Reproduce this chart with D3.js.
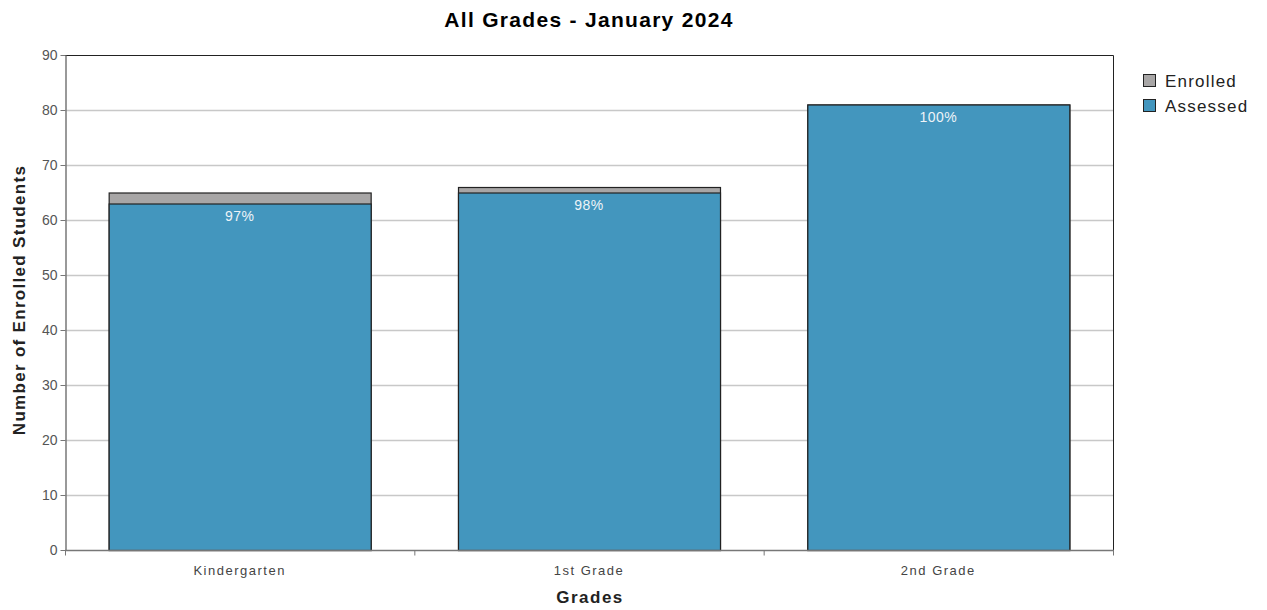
<!DOCTYPE html>
<html>
<head>
<meta charset="utf-8">
<script src="https://cdn.jsdelivr.net/npm/d3@7"></script>
<style>
  body { margin: 0; background: #fff; font-family: "Liberation Sans", Arial, sans-serif; }
</style>
</head>
<body>
<div class="chart-page"></div>
<script>
let grades = ["Kindergarten", "1st Grade", "2nd Grade"];
let enrolled = [65, 66, 81];
let assessed = [63, 65, 81];
let percentLabels = ["97%", "98%", "100%"];
let yTicks = [0, 10, 20, 30, 40, 50, 60, 70, 80, 90];

let width = 1267, height = 610;
let margin = { top: 55, right: 154, bottom: 60, left: 65 };
let blue = "#4396be", gray = "#a8a6a6";

let svg = d3.select(".chart-page")
  .append("svg")
  .attr("width", width)
  .attr("height", height);

let x = d3.scaleBand()
  .domain(grades)
  .range([margin.left, width - margin.right])
  .paddingInner(0.25)
  .paddingOuter(0.125);

let y = d3.scaleLinear()
  .domain([0, 90])
  .range([height - margin.bottom, margin.top]);

// grid lines
svg.append("g")
  .selectAll("line")
  .data(yTicks.slice(1, -1))
  .enter().append("line")
  .attr("x1", margin.left)
  .attr("x2", width - margin.right)
  .attr("y1", d => y(d) + 0.5)
  .attr("y2", d => y(d) + 0.5)
  .attr("stroke", "#c8c8c8")
  .attr("stroke-width", 1.3);

// top and right border
svg.append("path")
  .attr("d", `M${margin.left},${margin.top + 0.5}H${width - margin.right + 0.5}V${height - margin.bottom}`)
  .attr("fill", "none")
  .attr("stroke", "#222");

let rows = grades.map((g, i) => ({ grade: g, enrolled: enrolled[i], assessed: assessed[i], label: percentLabels[i] }));

// enrolled (back)
svg.append("g")
  .selectAll("rect")
  .data(rows)
  .enter().append("rect")
  .attr("x", d => x(d.grade) + 0.5)
  .attr("y", d => y(d.enrolled) + 0.5)
  .attr("width", x.bandwidth())
  .attr("height", d => y(0) - y(d.enrolled))
  .attr("fill", gray)
  .attr("stroke", "#222")
  .attr("stroke-width", 1.2);

// assessed (front)
svg.append("g")
  .selectAll("rect")
  .data(rows)
  .enter().append("rect")
  .attr("x", d => x(d.grade) + 0.5)
  .attr("y", d => y(d.assessed) + 0.5)
  .attr("width", x.bandwidth())
  .attr("height", d => y(0) - y(d.assessed))
  .attr("fill", blue)
  .attr("stroke", "#222")
  .attr("stroke-width", 1.2);

// percent labels
svg.append("g")
  .selectAll("text")
  .data(rows)
  .enter().append("text")
  .attr("x", d => x(d.grade) + x.bandwidth() / 2)
  .attr("y", d => y(d.assessed) + 17)
  .attr("text-anchor", "middle")
  .attr("fill", "#eef4f8")
  .style("font-size", "14px")
  .style("letter-spacing", "0.5px")
  .text(d => d.label);

// y axis
let yAxis = svg.append("g")
  .attr("transform", `translate(${margin.left + 0.5},0)`)
  .call(d3.axisLeft(y).tickValues(yTicks).tickSize(5).tickSizeOuter(0));
yAxis.select(".domain").attr("stroke", "#777").attr("stroke-width", 1.5);
yAxis.selectAll(".tick line").attr("stroke", "#777");
yAxis.selectAll(".tick text")
  .attr("fill", "#555")
  .attr("x", -8)
  .style("font-size", "14px")
  .style("font-family", "'Liberation Sans', Arial, sans-serif");

// x axis with boundary ticks
let xAxis = svg.append("g")
  .attr("transform", `translate(0,${height - margin.bottom + 0.5})`);
xAxis.append("line")
  .attr("x1", margin.left)
  .attr("x2", width - margin.right + 1)
  .attr("stroke", "#777")
  .attr("stroke-width", 1.5);
let step = x.step();
xAxis.selectAll(".bound")
  .data(d3.range(grades.length + 1))
  .enter().append("line")
  .attr("x1", i => margin.left + i * step + 0.5)
  .attr("x2", i => margin.left + i * step + 0.5)
  .attr("y1", 0)
  .attr("y2", 5)
  .attr("stroke", "#777");
xAxis.selectAll("text")
  .data(grades)
  .enter().append("text")
  .attr("x", d => x(d) + x.bandwidth() / 2)
  .attr("y", 24)
  .attr("text-anchor", "middle")
  .attr("fill", "#444")
  .style("font-size", "13px")
  .style("letter-spacing", "1.5px")
  .text(d => d);

// title and axis labels
svg.append("text")
  .attr("x", 589)
  .attr("y", 27)
  .attr("text-anchor", "middle")
  .style("font-size", "21px")
  .style("font-weight", "bold")
  .style("letter-spacing", "1.3px")
  .text("All Grades - January 2024");

svg.append("text")
  .attr("x", 590)
  .attr("y", 603)
  .attr("text-anchor", "middle")
  .style("font-size", "17px")
  .style("font-weight", "bold")
  .style("letter-spacing", "1.5px")
  .attr("fill", "#222")
  .text("Grades");

svg.append("text")
  .attr("transform", `translate(25,300) rotate(-90)`)
  .attr("text-anchor", "middle")
  .style("font-size", "17px")
  .style("font-weight", "bold")
  .style("letter-spacing", "1.3px")
  .attr("fill", "#222")
  .text("Number of Enrolled Students");

// legend
let legend = svg.append("g").attr("transform", "translate(1143,74)");
let legendItems = [{ name: "Enrolled", color: gray }, { name: "Assessed", color: blue }];
let li = legend.selectAll("g")
  .data(legendItems)
  .enter().append("g")
  .attr("transform", (d, i) => `translate(0,${i * 25})`);
li.append("rect")
  .attr("x", 0.5).attr("y", 0.5)
  .attr("width", 12).attr("height", 12)
  .attr("fill", d => d.color)
  .attr("stroke", "#222");
li.append("text")
  .attr("x", 22)
  .attr("y", 13)
  .style("font-size", "17px")
  .style("letter-spacing", "1.2px")
  .attr("fill", "#222")
  .text(d => d.name);
</script>
</body>
</html>
